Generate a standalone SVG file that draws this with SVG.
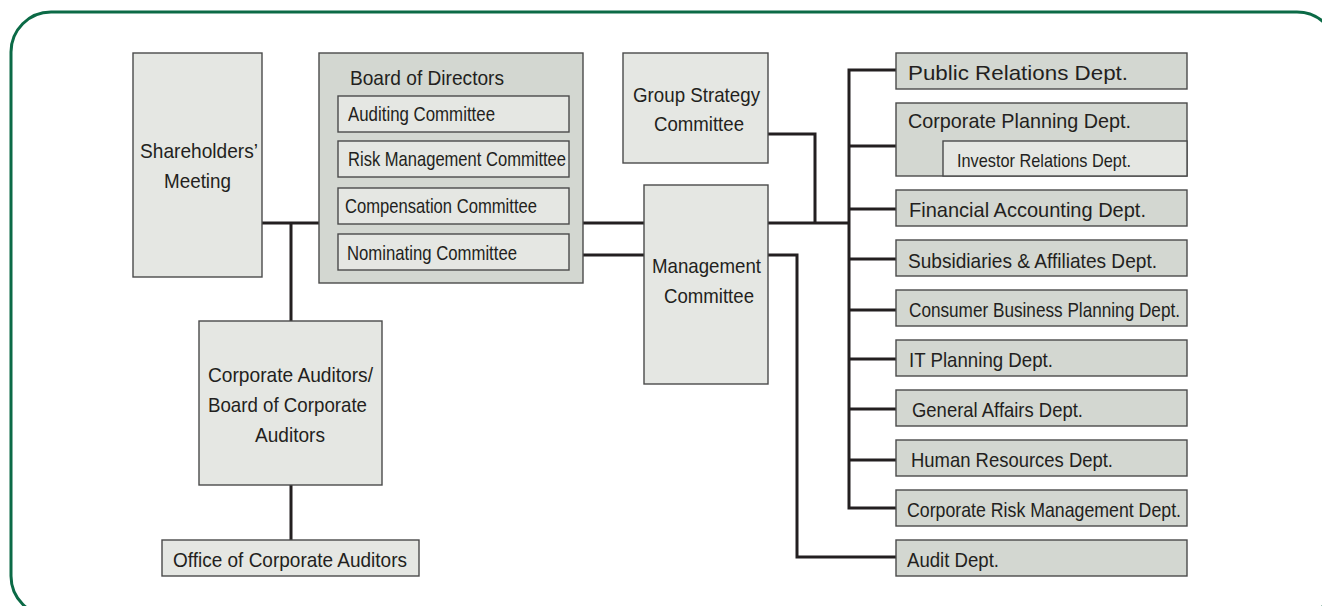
<svg xmlns="http://www.w3.org/2000/svg" width="1322" height="606" viewBox="0 0 1322 606">
<style>
  .frame{fill:#ffffff;stroke:#0b6a46;stroke-width:3}
  .lt{fill:#e5e7e3;stroke:#4a4a4a;stroke-width:1.4}
  .dk{fill:#d3d7d1;stroke:#4a4a4a;stroke-width:1.4}
  .t{font-family:"Liberation Sans",Arial,sans-serif;font-size:21px;fill:#231f20}
  .s{font-size:19px}
  .ln{fill:none;stroke:#231f20;stroke-width:3;stroke-linejoin:miter;stroke-linecap:butt}
</style>
<rect class="frame" x="11" y="12" width="1326" height="604" rx="40" ry="40"/>

<g id="connectors">
  <path class="ln" d="M262 223H319 M291 223V321 M291 485V540"/>
  <path class="ln" d="M583 223H644 M583 255H644 M768 223H849"/>
  <path class="ln" d="M768 134H815V223"/>
  <path class="ln" d="M768 255H797V557H896"/>
  <path class="ln" d="M896 70H849V508H896 M849 146H896 M849 209H896 M849 259H896 M849 310H896 M849 359H896 M849 409H896 M849 460H896"/>
</g>

<g id="shareholders">
  <rect class="lt" x="133" y="53" width="129" height="224"/>
  <text class="t" x="140" y="158" textLength="118" lengthAdjust="spacingAndGlyphs">Shareholders’</text>
  <text class="t" x="164" y="188" textLength="67" lengthAdjust="spacingAndGlyphs">Meeting</text>
</g>

<g id="board">
  <rect class="dk" x="319" y="53" width="264" height="230"/>
  <text class="t" x="350" y="85" textLength="154" lengthAdjust="spacingAndGlyphs">Board of Directors</text>
  <g id="auditing-committee">
    <rect class="lt" x="338" y="96" width="231" height="36"/>
    <text class="t" x="348" y="121" textLength="147" lengthAdjust="spacingAndGlyphs">Auditing Committee</text>
  </g>
  <g id="risk-committee">
    <rect class="lt" x="338" y="141" width="231" height="36"/>
    <text class="t" x="348" y="166" textLength="218" lengthAdjust="spacingAndGlyphs">Risk Management Committee</text>
  </g>
  <g id="compensation-committee">
    <rect class="lt" x="338" y="188" width="231" height="36"/>
    <text class="t" x="345" y="213" textLength="192" lengthAdjust="spacingAndGlyphs">Compensation Committee</text>
  </g>
  <g id="nominating-committee">
    <rect class="lt" x="338" y="234" width="231" height="36"/>
    <text class="t" x="347" y="260" textLength="170" lengthAdjust="spacingAndGlyphs">Nominating Committee</text>
  </g>
</g>

<g id="group-strategy">
  <rect class="lt" x="623" y="53" width="145" height="110"/>
  <text class="t" x="633" y="102" textLength="127" lengthAdjust="spacingAndGlyphs">Group Strategy</text>
  <text class="t" x="654" y="131" textLength="90" lengthAdjust="spacingAndGlyphs">Committee</text>
</g>

<g id="management">
  <rect class="lt" x="644" y="185" width="124" height="199"/>
  <text class="t" x="652" y="273" textLength="109" lengthAdjust="spacingAndGlyphs">Management</text>
  <text class="t" x="664" y="303" textLength="90" lengthAdjust="spacingAndGlyphs">Committee</text>
</g>

<g id="corporate-auditors">
  <rect class="lt" x="199" y="321" width="183" height="164"/>
  <text class="t" x="208" y="382" textLength="165" lengthAdjust="spacingAndGlyphs">Corporate Auditors/</text>
  <text class="t" x="208" y="412" textLength="159" lengthAdjust="spacingAndGlyphs">Board of Corporate</text>
  <text class="t" x="255" y="442" textLength="70" lengthAdjust="spacingAndGlyphs">Auditors</text>
</g>

<g id="office-auditors">
  <rect class="lt" x="162" y="540" width="257" height="36"/>
  <text class="t" x="173" y="567" textLength="234" lengthAdjust="spacingAndGlyphs">Office of Corporate Auditors</text>
</g>

<g id="public-relations">
  <rect class="dk" x="896" y="53" width="291" height="36"/>
  <text class="t" x="908" y="80" textLength="220" lengthAdjust="spacingAndGlyphs">Public Relations Dept.</text>
</g>
<g id="corporate-planning">
  <rect class="dk" x="896" y="103" width="291" height="73"/>
  <text class="t" x="908" y="128" textLength="223" lengthAdjust="spacingAndGlyphs">Corporate Planning Dept.</text>
</g>
<g id="investor-relations">
  <rect class="lt" x="943" y="141" width="244" height="35"/>
  <text class="t s" x="957" y="167" textLength="174" lengthAdjust="spacingAndGlyphs">Investor Relations Dept.</text>
</g>
<g id="financial-accounting">
  <rect class="dk" x="896" y="190" width="291" height="36"/>
  <text class="t" x="909" y="217" textLength="237" lengthAdjust="spacingAndGlyphs">Financial Accounting Dept.</text>
</g>
<g id="subsidiaries">
  <rect class="dk" x="896" y="240" width="291" height="36"/>
  <text class="t" x="908" y="268" textLength="249" lengthAdjust="spacingAndGlyphs">Subsidiaries &amp; Affiliates Dept.</text>
</g>
<g id="consumer-business">
  <rect class="dk" x="896" y="290" width="291" height="36"/>
  <text class="t" x="909" y="317" textLength="271" lengthAdjust="spacingAndGlyphs">Consumer Business Planning Dept.</text>
</g>
<g id="it-planning">
  <rect class="dk" x="896" y="340" width="291" height="36"/>
  <text class="t" x="909" y="367" textLength="144" lengthAdjust="spacingAndGlyphs">IT Planning Dept.</text>
</g>
<g id="general-affairs">
  <rect class="dk" x="896" y="390" width="291" height="36"/>
  <text class="t" x="912" y="417" textLength="171" lengthAdjust="spacingAndGlyphs">General Affairs Dept.</text>
</g>
<g id="human-resources">
  <rect class="dk" x="896" y="440" width="291" height="36"/>
  <text class="t" x="911" y="467" textLength="202" lengthAdjust="spacingAndGlyphs">Human Resources Dept.</text>
</g>
<g id="corporate-risk">
  <rect class="dk" x="896" y="490" width="291" height="36"/>
  <text class="t" x="907" y="517" textLength="274" lengthAdjust="spacingAndGlyphs">Corporate Risk Management Dept.</text>
</g>
<g id="audit">
  <rect class="dk" x="896" y="540" width="291" height="36"/>
  <text class="t" x="907" y="567" textLength="92" lengthAdjust="spacingAndGlyphs">Audit Dept.</text>
</g>
</svg>
